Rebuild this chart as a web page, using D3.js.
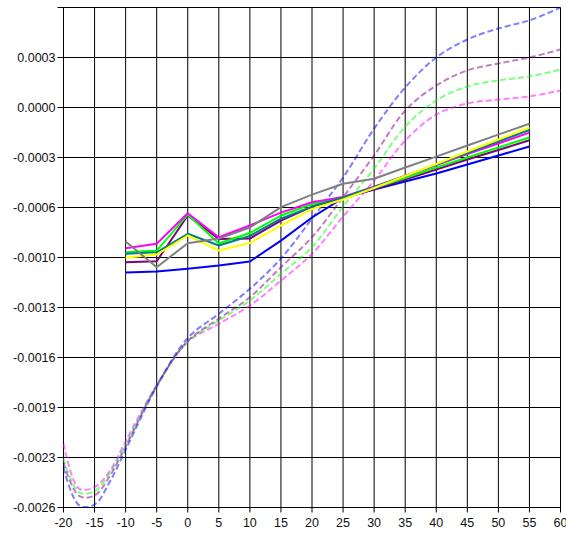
<!DOCTYPE html>
<html>
<head>
<meta charset="utf-8">
<script src="https://cdn.jsdelivr.net/npm/d3@7"></script>
<style>
  html, body { margin: 0; padding: 0; background: #fff; }
  svg { display: block; }
  text { font-family: "Liberation Sans", Arial, sans-serif; font-size: 12.5px; fill: #111; }
</style>
</head>
<body>
<svg id="chart" width="566" height="534"></svg>
<script>
// x positions of the measured series (solid) and of the fitted curves (dashed)
const xSolid = [-10, -5, 0, 5, 10, 15, 20, 25, 30, 35, 40, 45, 50, 55];
const xCurve = [-20, -17.5, -15, -12.5, -10, -5, 0, 5, 10, 15, 20, 25, 30, 35, 40, 45, 50, 55, 60];

// measured series
const seriesBlue    = [-0.001073, -0.001066, -0.001048, -0.001027, -0.001001, -0.000865, -0.000715, -0.000588, -0.000533, -0.000481, -0.000429, -0.000371, -0.000312, -0.000254];
const seriesPurple  = [-0.001006, -0.000999, -0.000702, -0.000855, -0.000852, -0.000735, -0.000644, -0.000588, -0.000530, -0.000468, -0.000403, -0.000338, -0.000276, -0.000213];
const seriesMagenta = [-0.000915, -0.000886, -0.000687, -0.000843, -0.000767, -0.000683, -0.000616, -0.000582, -0.000514, -0.000445, -0.000374, -0.000302, -0.000234, -0.000163];
const seriesGreen   = [-0.000941, -0.000930, -0.000696, -0.000884, -0.000816, -0.000702, -0.000627, -0.000585, -0.000523, -0.000458, -0.000390, -0.000325, -0.000260, -0.000195];
const seriesTeal    = [-0.000951, -0.000941, -0.000821, -0.000897, -0.000835, -0.000723, -0.000644, -0.000585, -0.000517, -0.000445, -0.000371, -0.000296, -0.000221, -0.000146];
const seriesYellow  = [-0.000977, -0.000956, -0.000832, -0.000930, -0.000881, -0.000767, -0.000660, -0.000598, -0.000523, -0.000445, -0.000367, -0.000286, -0.000208, -0.000130];
const seriesGray    = [-0.000871, -0.001038, -0.000882, -0.000852, -0.000780, -0.000648, -0.000566, -0.000496, -0.000463, -0.000390, -0.000319, -0.000247, -0.000176, -0.000106];

// fitted curves
const curveBlue    = [-0.002340, -0.002585, -0.002581, -0.002429, -0.002225, -0.001814, -0.001498, -0.001341, -0.001178, -0.000982, -0.000722, -0.000455, -0.000137, 0.000130, 0.000325, 0.000442, 0.000514, 0.000566, 0.000650];
const curvePurple  = [-0.002308, -0.002525, -0.002522, -0.002392, -0.002204, -0.001810, -0.001518, -0.001373, -0.001233, -0.001038, -0.000843, -0.000583, -0.000312, -0.000020, 0.000143, 0.000241, 0.000286, 0.000325, 0.000377];
const curveGreen   = [-0.002282, -0.002501, -0.002494, -0.002374, -0.002191, -0.001807, -0.001521, -0.001385, -0.001255, -0.001081, -0.000908, -0.000644, -0.000397, -0.000124, 0.000046, 0.000137, 0.000176, 0.000202, 0.000247];
const curveMagenta = [-0.002184, -0.002477, -0.002468, -0.002360, -0.002169, -0.001804, -0.001524, -0.001406, -0.001287, -0.001125, -0.000951, -0.000709, -0.000475, -0.000215, -0.000046, 0.000026, 0.000052, 0.000072, 0.000111];

// axis ticks and their labels
const xTickValues = [-20, -15, -10, -5, 0, 5, 10, 15, 20, 25, 30, 35, 40, 45, 50, 55, 60];
const xTickLabels = ["-20", "-15", "-10", "-5", "0", "5", "10", "15", "20", "25", "30", "35", "40", "45", "50", "55", "60"];
const yTickValues = [-0.0026, -0.002275, -0.00195, -0.001625, -0.0013, -0.000975, -0.00065, -0.000325, 0, 0.000325, 0.00065];
const yTickLabels = ["-0.0026", "-0.0023", "-0.0019", "-0.0016", "-0.0013", "-0.0010", "-0.0006", "-0.0003", "0.0000", "0.0003", ""];

const svg = d3.select("#chart");

const x = d3.scaleLinear().domain([-20, 60]).range([63.5, 560.5]);
const y = d3.scaleLinear().domain([-0.0026, 0.00065]).range([507.5, 7.5]);

// grid
const grid = svg.append("g").attr("stroke", "#000").attr("stroke-width", 1);
grid.selectAll("line.v").data(xTickValues).join("line")
  .attr("class", "v")
  .attr("x1", d => x(d)).attr("x2", d => x(d))
  .attr("y1", y(0.00065)).attr("y2", y(-0.0026) + 5);
grid.selectAll("line.h").data(yTickValues).join("line")
  .attr("class", "h")
  .attr("x1", x(-20) - 6).attr("x2", x(60))
  .attr("y1", d => y(d)).attr("y2", d => y(d));

// tick labels
svg.append("g").selectAll("text").data(yTickValues).join("text")
  .attr("x", x(-20) - 8)
  .attr("y", d => y(d))
  .attr("dy", "0.35em")
  .attr("text-anchor", "end")
  .text((d, i) => yTickLabels[i]);

svg.append("g").selectAll("text").data(xTickValues).join("text")
  .attr("x", d => x(d))
  .attr("y", 527)
  .attr("text-anchor", "middle")
  .text((d, i) => xTickLabels[i]);

// fitted curves (dashed, translucent)
const curveLine = d3.line()
  .x(d => x(d[0])).y(d => y(d[1]))
  .curve(d3.curveCatmullRom.alpha(0.5));

const curves = [
  { values: curveMagenta, color: "#ff00ff" },
  { values: curveGreen,   color: "#00ff00" },
  { values: curvePurple,  color: "#800080" },
  { values: curveBlue,    color: "#0000ff" }
];
svg.append("g").selectAll("path").data(curves).join("path")
  .attr("d", s => curveLine(xCurve.map((v, i) => [v, s.values[i]])))
  .attr("fill", "none")
  .attr("stroke", s => s.color)
  .attr("stroke-opacity", 0.5)
  .attr("stroke-width", 2)
  .attr("stroke-dasharray", "6,3");

// measured series (solid)
const solidLine = d3.line().x(d => x(d[0])).y(d => y(d[1]));
const solids = [
  { values: seriesBlue,    color: "#0000ff" },
  { values: seriesPurple,  color: "#800080" },
  { values: seriesGreen,   color: "#00ff00" },
  { values: seriesMagenta, color: "#ff00ff" },
  { values: seriesTeal,    color: "#008080" },
  { values: seriesYellow,  color: "#ffff00" },
  { values: seriesGray,    color: "#808080" }
];
svg.append("g").selectAll("path").data(solids).join("path")
  .attr("d", s => solidLine(xSolid.map((v, i) => [v, s.values[i]])))
  .attr("fill", "none")
  .attr("stroke", s => s.color)
  .attr("stroke-width", 2)
  .attr("stroke-linejoin", "round");
</script>
</body>
</html>
